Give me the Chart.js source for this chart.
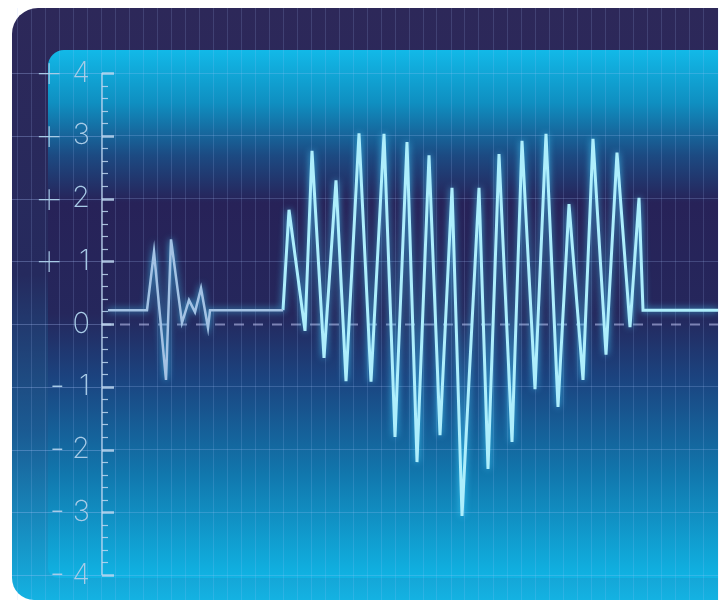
<!DOCTYPE html>
<html>
<head>
<meta charset="utf-8">
<script src="https://cdn.jsdelivr.net/npm/chart.js@4.4.0/dist/chart.umd.min.js"></script>
<style>
  html, body { margin: 0; padding: 0; background: #fff; }
  #wrap { width: 724px; height: 603px; position: relative; }
</style>
</head>
<body>
<div id="wrap"><canvas id="scope"></canvas></div>
<script>
// trace data: time (ms) and level (V)
const blipTime  = [0.7, 4.6, 5.3, 6.5, 7.0, 8.1, 8.8, 9.4, 10.0, 10.7, 10.9, 18.2];
const blipLevel = [0.22, 0.22, 1.15, -0.89, 1.35, 0.02, 0.38, 0.19, 0.57, -0.06, 0.22, 0.22];

const burstTime  = [18.2, 18.8, 20.4, 21.1, 22.3, 23.5, 24.5, 25.8, 27.0, 28.3, 29.4, 30.6,
                    31.6, 32.8, 33.9, 35.1, 36.1, 37.8, 38.7, 39.8, 41.1, 42.1, 43.4, 44.5,
                    45.7, 46.8, 48.2, 49.2, 50.5, 51.6, 52.9, 53.8, 54.2, 61.7];
const burstLevel = [0.22, 1.82, -0.11, 2.76, -0.54, 2.29, -0.91, 3.04, -0.92, 3.03, -1.80, 2.90,
                    -2.20, 2.69, -1.77, 2.17, -3.06, 2.17, -2.31, 2.71, -1.88, 2.92, -1.04, 3.03,
                    -1.32, 1.91, -0.89, 2.95, -0.49, 2.73, -0.05, 2.01, 0.22, 0.22];

const yTickValues = [4, 3, 2, 1, 0, -1, -2, -3, -4];
const yTickDigits = ['4', '3', '2', '1', '0', '1', '2', '3', '4'];
const yTickSigns  = ['+', '+', '+', '+', '', '-', '-', '-', '-'];

const toPoints = (xs, ys) => xs.map((x, i) => ({ x: x, y: ys[i] }));

const gridColor = 'rgba(175, 200, 255, 0.16)';
const yMin = -4.398, yMax = 5.036;

// both left axes get the same integer ticks
const fixTicks = scale => {
  scale.ticks = yTickValues.map(v => ({ value: v }));
};

// frame + panel behind everything
const backdrop = {
  id: 'backdrop',
  beforeDraw(chart) {
    const ctx = chart.ctx;
    const area = chart.chartArea;
    const xs = chart.scales.x;
    const ys = chart.scales.y;
    ctx.save();

    const outer = ctx.createLinearGradient(0, area.top, 0, area.bottom);
    outer.addColorStop(0, '#2d2859');
    outer.addColorStop(0.45, '#252a5e');
    outer.addColorStop(0.72, '#1a5c94');
    outer.addColorStop(1, '#14b2e2');
    ctx.fillStyle = outer;
    ctx.beginPath();
    ctx.roundRect(12, area.top, area.right - 12, area.bottom - area.top, [26, 0, 0, 22]);
    ctx.fill();

    const panelTop = 50, panelBottom = 578;
    const inner = ctx.createLinearGradient(0, panelTop, 0, panelBottom);
    inner.addColorStop(0, '#12b9e8');
    inner.addColorStop(0.1, '#0f8fc1');
    inner.addColorStop(0.2, '#1c4a82');
    inner.addColorStop(0.29, '#272258');
    inner.addColorStop(0.5, '#25275c');
    inner.addColorStop(0.62, '#1b437f');
    inner.addColorStop(0.8, '#1176ac');
    inner.addColorStop(1, '#10b3e3');
    ctx.fillStyle = inner;
    ctx.beginPath();
    ctx.roundRect(48, panelTop, area.right - 48, panelBottom - panelTop, [16, 0, 0, 10]);
    ctx.fill();

    // grid continues into the left strip
    ctx.strokeStyle = gridColor;
    ctx.lineWidth = 1;
    const step = chart.options.scales.x.ticks.stepSize;
    for (let v = -step; xs.getPixelForValue(v) > 14; v -= step) {
      const px = Math.round(xs.getPixelForValue(v)) + 0.5;
      ctx.beginPath();
      ctx.moveTo(px, area.top);
      ctx.lineTo(px, area.bottom);
      ctx.stroke();
    }
    ctx.strokeStyle = 'rgba(175, 200, 255, 0.3)';
    yTickValues.forEach(v => {
      const py = Math.round(ys.getPixelForValue(v)) + 0.5;
      ctx.beginPath();
      ctx.moveTo(12, py);
      ctx.lineTo(area.left, py);
      ctx.stroke();
    });
    ctx.restore();
  }
};

// dashed zero line and the ruler on the axis
const ruler = {
  id: 'ruler',
  beforeDatasetsDraw(chart) {
    const ctx = chart.ctx;
    const area = chart.chartArea;
    const ys = chart.scales.y;
    ctx.save();

    const y0 = Math.round(ys.getPixelForValue(0)) + 0.5;
    ctx.strokeStyle = 'rgba(185, 190, 235, 0.6)';
    ctx.lineWidth = 2;
    ctx.setLineDash([10, 9]);
    ctx.beginPath();
    ctx.moveTo(area.left, y0);
    ctx.lineTo(area.right, y0);
    ctx.stroke();
    ctx.setLineDash([]);

    const x0 = area.left + 1;
    ctx.strokeStyle = 'rgba(190, 215, 240, 0.85)';
    ctx.lineWidth = 1.5;
    ctx.beginPath();
    ctx.moveTo(x0, ys.getPixelForValue(4));
    ctx.lineTo(x0, ys.getPixelForValue(-4));
    ctx.stroke();

    const lo = yTickValues[yTickValues.length - 1], hi = yTickValues[0];
    for (let k = lo * 5; k <= hi * 5; k++) {
      const py = Math.round(ys.getPixelForValue(k / 5)) + 0.5;
      const major = k % 5 === 0;
      ctx.lineWidth = major ? 2.5 : 1.2;
      ctx.beginPath();
      ctx.moveTo(x0, py);
      ctx.lineTo(x0 + (major ? 12 : 6), py);
      ctx.stroke();
    }
    ctx.restore();
  }
};

// soft glow on the trace
const glow = {
  id: 'glow',
  beforeDatasetDraw(chart) {
    const ctx = chart.ctx;
    ctx.save();
    ctx.shadowColor = 'rgba(70, 210, 255, 0.85)';
    ctx.shadowBlur = 7;
  },
  afterDatasetDraw(chart) {
    chart.ctx.restore();
  }
};

new Chart(document.getElementById('scope'), {
  type: 'line',
  data: {
    datasets: [
      {
        label: 'blip',
        data: toPoints(blipTime, blipLevel),
        borderColor: '#a3c2e4',
        borderWidth: 2.5,
        pointRadius: 0,
        tension: 0
      },
      {
        label: 'burst',
        data: toPoints(burstTime, burstLevel),
        borderColor: '#aeeefc',
        borderWidth: 3,
        pointRadius: 0,
        tension: 0
      }
    ]
  },
  options: {
    responsive: true,
    maintainAspectRatio: false,
    animation: false,
    layout: { padding: { top: 8, bottom: 3, right: 6, left: 0 } },
    plugins: {
      legend: { display: false },
      tooltip: { enabled: false }
    },
    scales: {
      x: {
        type: 'linear',
        min: 0,
        max: 61.7,
        ticks: { display: false, stepSize: 1.4 },
        grid: { color: gridColor, drawTicks: false },
        border: { display: false }
      },
      sign: {
        type: 'linear',
        position: 'left',
        weight: 1,
        min: yMin,
        max: yMax,
        afterFit: scale => {
          scale.width = 74;
          scale.paddingTop = 0;
          scale.paddingBottom = 0;
        },
        afterBuildTicks: fixTicks,
        ticks: {
          color: '#a8cbe7',
          padding: 9,
          font: ctx => ({
            family: 'Inter',
            weight: (ctx.tick && ctx.tick.value > 0) ? 100 : 200,
            size: (ctx.tick && ctx.tick.value > 0) ? 50 : 34
          }),
          callback: value => yTickSigns[yTickValues.indexOf(value)]
        },
        grid: { display: false, drawTicks: false },
        border: { display: false }
      },
      y: {
        type: 'linear',
        position: 'left',
        weight: 0,
        min: yMin,
        max: yMax,
        afterFit: scale => {
          scale.width = 27;
          scale.paddingTop = 0;
          scale.paddingBottom = 0;
        },
        afterBuildTicks: fixTicks,
        ticks: {
          color: '#a8cbe7',
          padding: 11,
          font: { family: 'Inter', size: 29, weight: 200 },
          callback: value => yTickDigits[yTickValues.indexOf(value)]
        },
        grid: {
          drawTicks: false,
          color: ctx => (ctx.tick && ctx.tick.value === 0) ? 'rgba(0,0,0,0)' : 'rgba(175, 200, 255, 0.22)'
        },
        border: { display: false }
      }
    }
  },
  plugins: [backdrop, ruler, glow]
});
</script>
</body>
</html>
